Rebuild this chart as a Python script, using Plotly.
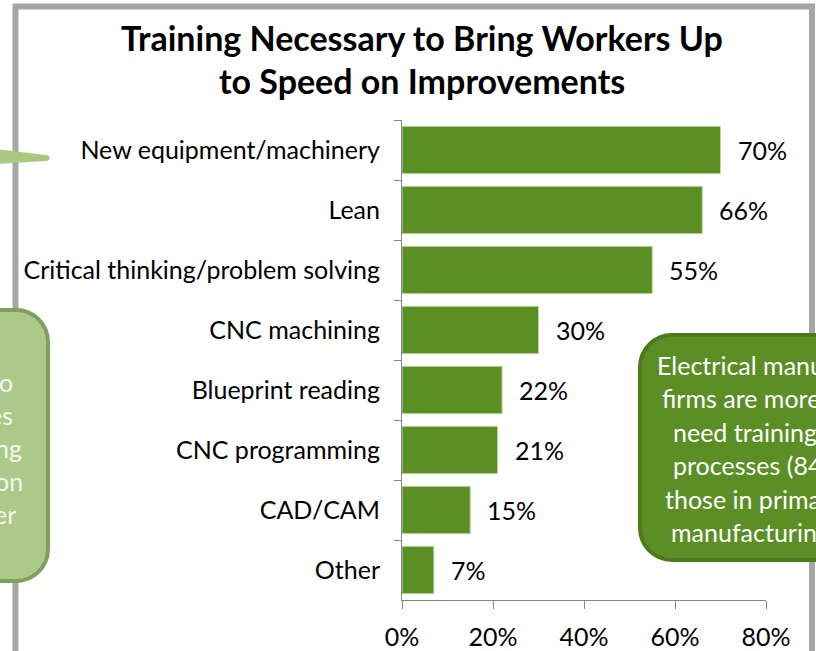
import plotly.graph_objects as go

# data
categories = ["New equipment/machinery", "Lean", "Critical thinking/problem solving",
              "CNC machining", "Blueprint reading", "CNC programming", "CAD/CAM", "Other"]
values = [70, 66, 55, 30, 22, 21, 15, 7]
x_ticks = [0, 20, 40, 60, 80]
x_tick_labels = ["0%", "20%", "40%", "60%", "80%"]

title_lines = ["Training Necessary to Bring Workers Up", "to Speed on Improvements"]
left_note = ["o", "es", "ng", "on", "er"]
right_note = ["Electrical manufacturing", "firms are more likely to", "need training on",
              "processes (84%) than", "those in primary metals", "manufacturing"]

FONT = "Lato, Calibri, Arial, sans-serif"
W, H = 816, 651
L, R, T, B = 402, 50, 120, 51


# pixel -> paper helpers (plot area spans x 402..766, y 120..600)
def X(p):
    return (p - L) / (W - L - R)


def Y(p):
    return (H - B - p) / (H - T - B)


def rounded(x0, y0, x1, y1, r):
    k = 0.552 * r
    pts = [
        ("M", [(x0 + r, y0)]),
        ("L", [(x1 - r, y0)]),
        ("C", [(x1 - r + k, y0), (x1, y0 + r - k), (x1, y0 + r)]),
        ("L", [(x1, y1 - r)]),
        ("C", [(x1, y1 - r + k), (x1 - r + k, y1), (x1 - r, y1)]),
        ("L", [(x0 + r, y1)]),
        ("C", [(x0 + r - k, y1), (x0, y1 - r + k), (x0, y1 - r)]),
        ("L", [(x0, y0 + r)]),
        ("C", [(x0, y0 + r - k), (x0 + r - k, y0), (x0 + r, y0)]),
    ]
    s = ""
    for cmd, coords in pts:
        s += cmd + " " + " ".join(f"{X(a):.5f},{Y(b):.5f}" for a, b in coords) + " "
    return s + "Z"


fig = go.Figure()
fig.add_trace(go.Bar(
    x=values, y=categories, orientation="h",
    marker=dict(color="#5a8f23", line=dict(color="#c3d9ab", width=1)),
    width=0.79, hoverinfo="skip",
))

# value labels next to each bar
annotations = []
for c, v in zip(categories, values):
    annotations.append(dict(x=v, y=c, xref="x", yref="y", text=f"{v}%", showarrow=False,
                            xanchor="left", yanchor="middle", xshift=15,
                            font=dict(family=FONT, size=25, color="#000000")))

# title, two lines
for txt, yc in zip(title_lines, [37, 81]):
    annotations.append(dict(x=X(422), y=Y(yc), xref="paper", yref="paper", text=f"<b>{txt}</b>",
                            showarrow=False, xanchor="center", yanchor="middle",
                            font=dict(family=FONT, size=34, color="#000000")))

# callout texts
for txt, xr, yc in zip(left_note, [15, 15, 24, 25, 18], [382, 415, 448, 481, 514]):
    annotations.append(dict(x=X(xr), y=Y(yc), xref="paper", yref="paper", text=txt,
                            showarrow=False, xanchor="right", yanchor="middle",
                            font=dict(family=FONT, size=25, color="#f4f7ee")))
for txt, xl, yc in zip(right_note, [655, 660, 671, 671, 663, 669], [365, 398, 432, 465, 499, 532]):
    annotations.append(dict(x=X(xl), y=Y(yc), xref="paper", yref="paper", text=txt,
                            showarrow=False, xanchor="left", yanchor="middle",
                            font=dict(family=FONT, size=25, color="#ffffff")))

shapes = [
    # slide frame
    dict(type="rect", xref="paper", yref="paper", x0=X(15.5), x1=X(812), y0=Y(6.5), y1=Y(654),
         line=dict(color="#a6a6a6", width=6), fillcolor="rgba(0,0,0,0)"),
    # pointer of the left callout
    dict(type="path", xref="paper", yref="paper",
         path=f"M {X(-4)},{Y(149)} L {X(46)},{Y(155)} C {X(51)},{Y(155)} {X(51)},{Y(161)} {X(46)},{Y(161)} L {X(-4)},{Y(164)} Z",
         fillcolor="#a9c97f", line=dict(width=0)),
    # left callout
    dict(type="path", xref="paper", yref="paper", path=rounded(-80, 310, 48, 581, 32),
         fillcolor="#adc98a", line=dict(color="#809f5e", width=4)),
    # right callout
    dict(type="path", xref="paper", yref="paper", path=rounded(640, 335, 900, 560, 32),
         fillcolor="#5b8f25", line=dict(color="#4c7a1c", width=4)),
]

fig.update_layout(
    width=W, height=H,
    margin=dict(l=L, r=R, t=T, b=B, autoexpand=False),
    paper_bgcolor="#ffffff", plot_bgcolor="#ffffff",
    showlegend=False,
    bargap=0.21,
    annotations=annotations,
    shapes=shapes,
    xaxis=dict(range=[0, 80], tickvals=x_ticks, ticktext=x_tick_labels, ticks="outside",
               ticklen=8, tickcolor="#868686", showline=True, linecolor="#868686", linewidth=1,
               showgrid=False, zeroline=False, ticklabelstandoff=7,
               tickfont=dict(family=FONT, size=25, color="#000000")),
    yaxis=dict(categoryorder="array", categoryarray=categories, autorange="reversed",
               ticks="outside", ticklen=7, tickcolor="#868686", tickson="boundaries",
               showline=True, linecolor="#868686", linewidth=1, showgrid=False,
               ticklabelstandoff=16,
               tickfont=dict(family=FONT, size=25, color="#000000")),
)

# the page body has a default 8px margin; drop it so the figure sits at the window origin
fig.write_html("out.html", config={"displayModeBar": False},
               post_script="document.body.style.margin='0px';")
